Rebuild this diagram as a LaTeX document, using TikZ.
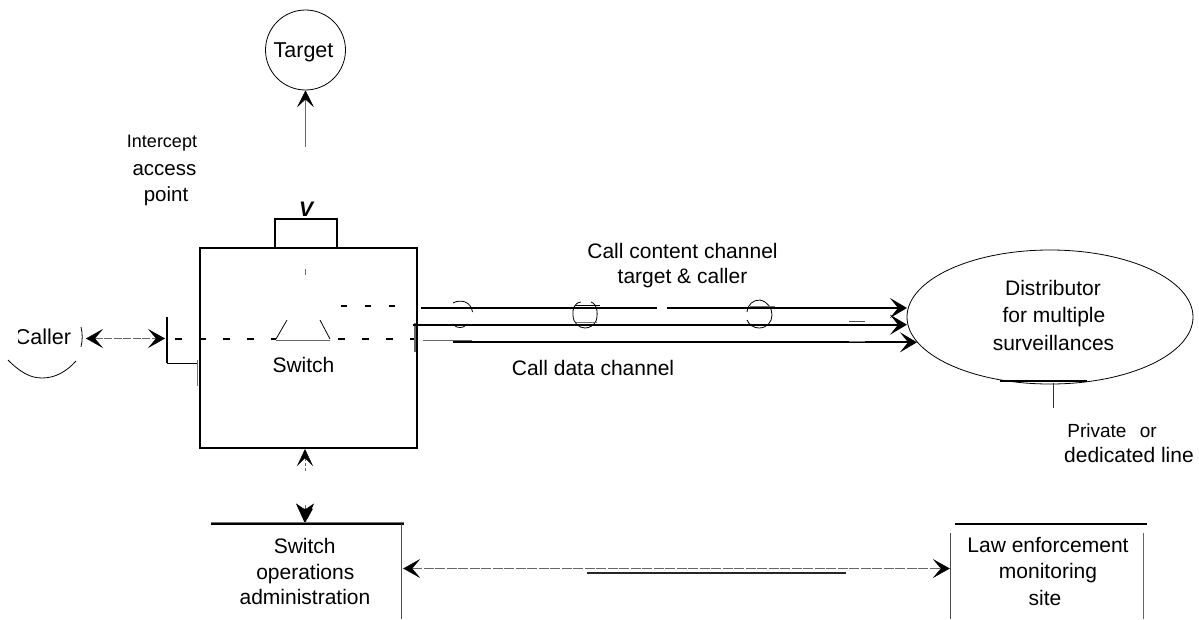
\documentclass[tikz,border=0pt]{standalone}
\usepackage{fontspec}
\setmainfont{Liberation Sans}
\usetikzlibrary{arrows.meta,calc,shapes.geometric}
\tikzset{
 lbl/.style={inner sep=0pt,anchor=base,font=\fontsize{21}{24}\selectfont,text=black},
 thick line/.style={line width=2pt,black},
 thin line/.style={line width=0.8pt,black},
 faint/.style={line width=0.5pt,black!60},
 bighead/.tip={Stealth[length=17pt,width=19pt,inset=8pt,black]},
 dashes/.style={line width=2pt,dash pattern=on 7pt off 17pt},
 chan/.style={line width=2pt,black,-{Stealth[length=17pt,width=20pt,inset=8pt,black]}}
}
\begin{document}
\begin{tikzpicture}[x=1pt,y=-1pt]
\useasboundingbox (0,0) rectangle (1199,619);
% Target
\node[circle,draw,line width=0.8pt,minimum size=80pt,inner sep=0pt] (target) at (305.5,50) {};
\node[lbl,font=\fontsize{21.5}{24}\selectfont] (tl) at (303.5,57) {Target};
\node[lbl,font=\fontsize{18}{20}\selectfont] (ic) at (162,147) {Intercept};
\node[lbl,font=\fontsize{20.5}{24}\selectfont] (acc) at (164.5,175) {access};
\node[lbl,font=\fontsize{20.5}{24}\selectfont] (pt) at (166,201) {point};
\coordinate (tfoot) at (305.5,147);
\draw[faint,{Stealth[length=17pt,width=17pt,inset=8pt,black]}-] (target.south) -- (tfoot);
% Switch box
\node[draw,line width=2pt,minimum width=217pt,minimum height=200pt,inner sep=0pt] (sw) at (308,348) {};
\node[inner sep=0pt,font=\fontsize{21}{22}\selectfont\bfseries\itshape] (v1) at (306,209) {V};
\draw[thick line] ($(sw.north)+(-33,0)$) |- ($(sw.north)+(29,-28)$) -- ($(sw.north)+(29,0)$);
\draw[faint] (305.5,269) -- (305.5,275);
\node[lbl] (swl) at (303.5,372) {Switch};
\draw[thin line] (287,320) -- (276,339);
\draw[thin line] (320,320) -- (330,339);
\draw[line width=1pt,black!60] (276,340) -- (330,340);
\draw[thick line,dash pattern=on 6pt off 18pt] (341,306) -- (396,306);
\draw[dashes] (175,339) -- (276,339);
\draw[dashes] (338,339) -- (416,339);
% Caller
\begin{scope}
\clip (18,320) rectangle (90,355);
\node[lbl,font=\fontsize{21.5}{24}\selectfont] (caller) at (43,344) {Caller};
\end{scope}
\draw[thin line] (81,327) arc[start angle=-14,end angle=14,radius=41] ;
\draw[thin line] (8,360) .. controls (20,372) and (30,378) .. (42,378) .. controls (55,378) and (66,372) .. (76,361);
\coordinate (cr) at (86,338.5);
\coordinate (bar) at (165,338.5);
\draw[faint,dash pattern=on 8pt off 1.5pt,{bighead}-{bighead}] (cr) -- (bar);
\draw[line width=2pt] (166.5,317) -- (166.5,363);
\draw[thin line] (166.5,363) -- (197,363);
\draw[line width=1pt,black!55] (197,360) -- (197,386);
\draw[line width=2pt,black!60] (415,323) -- (415,352);
% Channels
\coordinate (c1a) at (421,308); \coordinate (c1b) at (656.5,308);
\coordinate (c1c) at (667,308); \coordinate (c1d) at (907,308);
\coordinate (c2a) at (413,324.7); \coordinate (c2d) at (907,324.7);
\coordinate (c3a) at (453,342.3); \coordinate (c3d) at (917,342.3);
\draw[line width=2pt] (c1a) -- (c1b);
\draw[chan] (c1c) -- (c1d);
\draw[chan] (c2a) -- (c2d);
\draw[chan] (c3a) -- (c3d);
\draw[faint] (423,340) -- (453,340);
\draw[line width=1.1pt,black!60] (453,340.3) -- (472,340.3);
% loops
\draw[thin line] (453,303) .. controls (460,299) and (471,301) .. (472.5,312);
\draw[thin line] (455,326) .. controls (458,328) and (462,328) .. (465,326);
\draw[thin line] (575,305) -- (600,305);
\draw[thin line] (581,302) .. controls (574,303) and (572.5,309) .. (573,315) .. controls (573,323) and (579,328) .. (585,328) .. controls (590,328) and (594,325) .. (596,321);
\draw[thin line] (591,302) .. controls (598,304) and (598,316) .. (596,321);
\draw[line width=1pt,black!55] (576,322.5) -- (597,322.5);
\draw[thin line] (747,312) .. controls (748,304) and (753,300) .. (760,300) .. controls (768,302) and (772,308) .. (772,315) .. controls (772,322) and (767,328) .. (759,328) .. controls (754,328) and (749,325) .. (747,320);
\draw[line width=1pt,black!55] (750,306.5) -- (775,306.5);
\draw[line width=0.8pt,black!70] (849,321) -- (865,321);
\draw[line width=0.8pt,black!50] (849,341) -- (865,341);
\node[lbl] (cc1) at (682.5,258) {Call content channel};
\node[lbl] (cc2) at (682.5,283) {target \& caller};
\node[lbl] (cd) at (593,375) {Call data channel};
% Distributor
\node[ellipse,draw,line width=0.8pt,minimum width=286pt,minimum height=134pt,inner sep=0pt] (dist) at (1050,317) {};
\node[lbl] (d1) at (1053,295) {Distributor};
\node[lbl] (d2) at (1054,322) {for multiple};
\node[lbl] (d3) at (1053.5,350) {surveillances};
\draw[line width=2pt] (1000,380.5) -- (1087,380.5);
\coordinate (stem) at (1053,408);
\draw[line width=1pt,black!80] (1053,383) -- (stem);
\node[lbl,font=\fontsize{19}{22}\selectfont] (pl) at (1112,437) {Private\hspace{0.7em}or};
\node[lbl] (dl) at (1129,462) {dedicated line};
% Bottom
\coordinate (up) at (305,471);
\coordinate (dn) at (305,505);
\draw[faint,dash pattern=on 3pt off 2pt,{Stealth[length=17pt,width=16pt,inset=8pt,black]}-] (sw.south -| up) -- (up);
\draw[faint,-{Stealth[length=20pt,width=18pt,inset=6pt,black]}] (dn) -- (305,523.5);
\draw[line width=1.5pt,black] (211,524) -- (404,524);
\draw[line width=1pt,black!55] (211,522) -- (404,522);
\node[inner sep=0pt,font=\fontsize{15}{16}\selectfont\bfseries\itshape] at (307,514) {V};
\draw[thin line,black!70] (401.5,524) -- (401.5,619);
\node[lbl] (o1) at (304.7,553) {Switch};
\node[lbl] (o2) at (305.3,579) {operations};
\node[lbl] (o3) at (305,604) {administration};
\node[inner sep=0pt,minimum width=0pt] (ops) at (403,568.5) {};
\node[inner sep=0pt,minimum width=0pt] (law) at (950,568.5) {};
\draw[faint,dash pattern=on 10pt off 1.5pt,{bighead}-{bighead}] (ops) -- (law);
\draw[line width=2pt,black!85] (587,573) -- (846,573);
\draw[line width=2pt] (955,524) -- (1147,524);
\draw[thin line,black!70] (950,533) -- (950,619);
\draw[thin line,black!60] (1143,533) -- (1143,619);
\node[lbl] (l1) at (1048,552) {Law enforcement};
\node[lbl] (l2) at (1048,578) {monitoring};
\node[lbl] (l3) at (1045,605) {site};
\end{tikzpicture}
\end{document}
